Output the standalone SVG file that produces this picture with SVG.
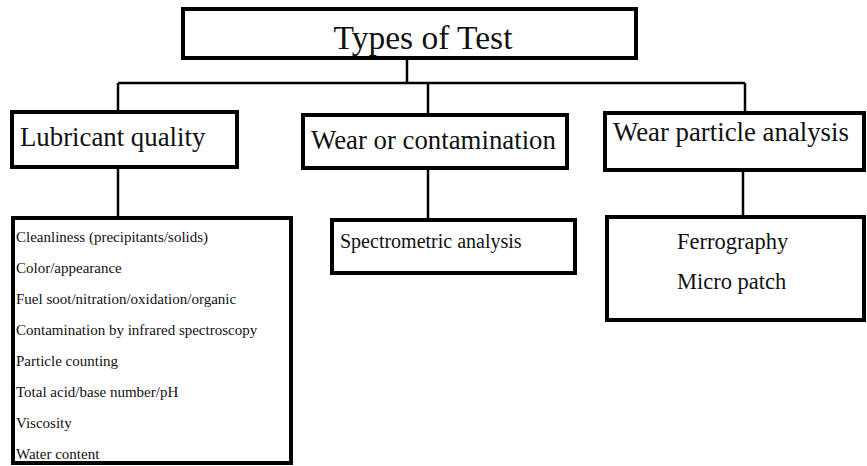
<svg xmlns="http://www.w3.org/2000/svg" width="867" height="466" viewBox="0 0 867 466">
<style>
.box{fill:#fff;stroke:#000;stroke-width:4}
.con{fill:none;stroke:#000;stroke-width:2.5}
text{font-family:"Liberation Serif","Times New Roman",serif;fill:#111}
.h1{font-size:33.5px}
.h2{font-size:26.8px}
.h3{font-size:20px}
.h4{font-size:22.5px}
.li{font-size:15px}
</style>
<rect width="867" height="466" fill="#fff"/>
<g id="connectors">
<path class="con" d="M407 58V83M118 83H745M428 83V115M118 83V112M745 83V113M118 167V218M428 168V220M743 170V217"/>
</g>
<g id="types">
<rect class="box" x="183" y="9" width="453" height="49"/>
<text class="h1" x="423" y="49" text-anchor="middle">Types of Test</text>
</g>
<g id="lubricant">
<rect class="box" x="12" y="112" width="225" height="55"/>
<text class="h2" x="20" y="146">Lubricant quality</text>
</g>
<g id="wear-contamination">
<rect class="box" x="303" y="115" width="264" height="53"/>
<text class="h2" x="311" y="149">Wear or contamination</text>
</g>
<g id="wear-particle">
<rect class="box" x="605" y="113" width="259" height="57"/>
<text class="h2" x="613" y="141">Wear particle analysis</text>
</g>
<g id="lubricant-list">
<rect class="box" x="13" y="218" width="278" height="245"/>
<text class="li" x="16" y="242">Cleanliness (precipitants/solids)</text>
<text class="li" x="16" y="273">Color/appearance</text>
<text class="li" x="16" y="304">Fuel soot/nitration/oxidation/organic</text>
<text class="li" x="16" y="335">Contamination by infrared spectroscopy</text>
<text class="li" x="16" y="366">Particle counting</text>
<text class="li" x="16" y="397">Total acid/base number/pH</text>
<text class="li" x="16" y="428">Viscosity</text>
<text class="li" x="16" y="459">Water content</text>
</g>
<g id="spectrometric">
<rect class="box" x="332" y="220" width="243" height="53"/>
<text class="h3" x="340" y="248">Spectrometric analysis</text>
</g>
<g id="ferrography">
<rect class="box" x="607" y="217" width="257" height="103"/>
<text class="h4" x="677" y="249">Ferrography</text>
<text class="h4" x="677" y="289">Micro patch</text>
</g>
</svg>
